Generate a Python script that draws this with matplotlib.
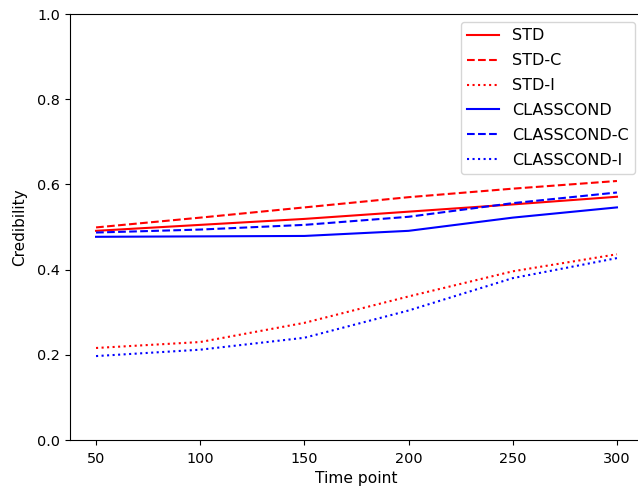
import matplotlib
matplotlib.use("Agg")
import matplotlib.pyplot as plt

time_points = [50, 100, 150, 200, 250, 300]

std = [0.491, 0.505, 0.519, 0.536, 0.553, 0.571]
std_c = [0.499, 0.522, 0.546, 0.570, 0.590, 0.608]
std_i = [0.216, 0.230, 0.275, 0.337, 0.396, 0.436]
classcond = [0.477, 0.478, 0.479, 0.491, 0.522, 0.546]
classcond_c = [0.487, 0.494, 0.505, 0.524, 0.556, 0.581]
classcond_i = [0.197, 0.212, 0.240, 0.304, 0.380, 0.427]

fig = plt.figure(figsize=(6.38, 4.87), dpi=100)
# the reference is cropped on the right, so the axes run past the edge
ax = fig.add_axes([70 / 638, 1 - 440 / 487, 573 / 638, 426 / 487])

ax.plot(time_points, std, color="red", linestyle="-", label="STD")
ax.plot(time_points, std_c, color="red", linestyle="--", label="STD-C")
ax.plot(time_points, std_i, color="red", linestyle=":", label="STD-I")
ax.plot(time_points, classcond, color="blue", linestyle="-", label="CLASSCOND")
ax.plot(time_points, classcond_c, color="blue", linestyle="--", label="CLASSCOND-C")
ax.plot(time_points, classcond_i, color="blue", linestyle=":", label="CLASSCOND-I")

ax.set_ylim(0, 1)
ax.set_xlim(37.5, 312.5)
ax.set_xticks(time_points)
ax.tick_params(labelsize=10.4)
ax.tick_params(axis="x", pad=5)
ax.set_xlabel("Time point", fontsize=11.2, labelpad=3.5)
ax.set_ylabel("Credibility", fontsize=11, labelpad=7.5)
ax.legend(loc="upper right", fontsize=11.5, labelspacing=0.62)

fig.savefig("out.png", dpi=100)
